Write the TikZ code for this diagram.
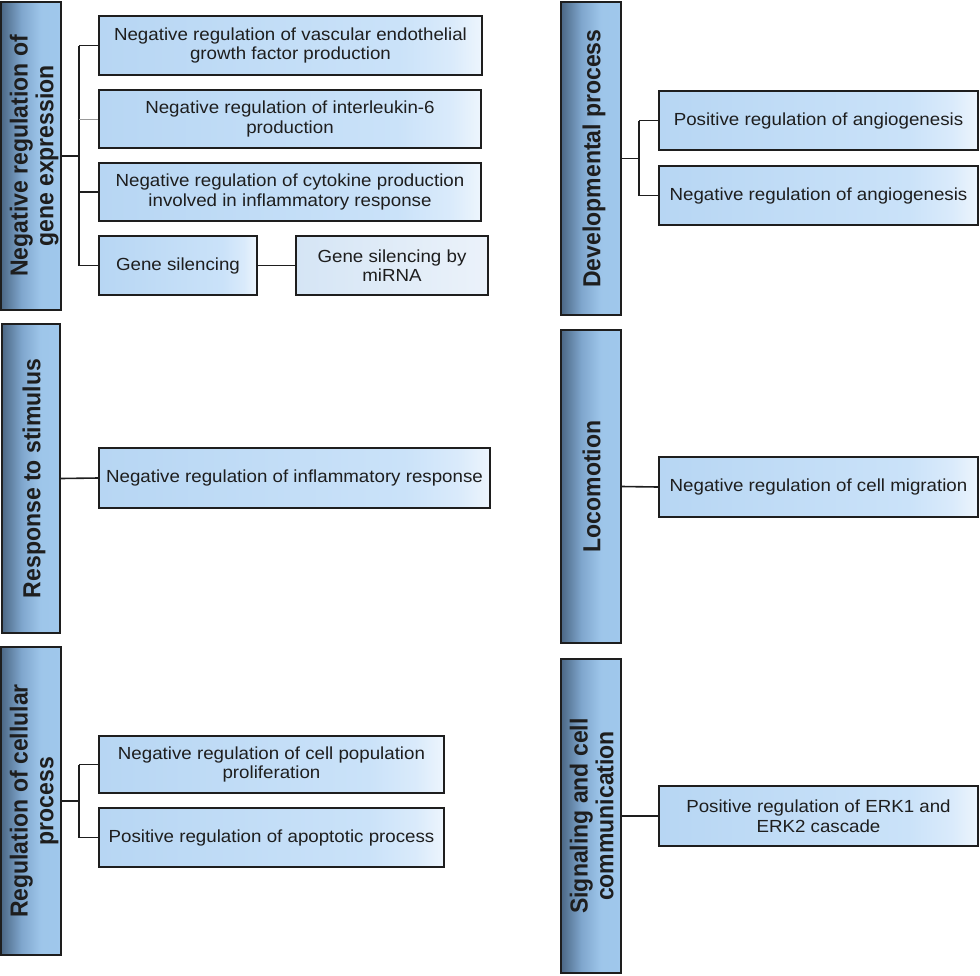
\documentclass[tikz,border=0pt]{standalone}
\usepackage{fontspec}
\setmainfont{Liberation Sans}
\newfontfamily\childfont{Liberation Sans}[FakeStretch=1.07]
\definecolor{catdark}{HTML}{4B6784}
\definecolor{catmid}{HTML}{7FA6CD}
\definecolor{catlight}{HTML}{A0C8EC}
\definecolor{chleft}{HTML}{B7D6F3}
\definecolor{chmid}{HTML}{CAE2F9}
\definecolor{chright}{HTML}{EDF5FD}
\definecolor{mileft}{HTML}{D5E5F5}
\definecolor{miright}{HTML}{EBF2FA}
\definecolor{ink}{HTML}{1E1E1E}
\pgfdeclarehorizontalshading{childshade}{100bp}{color(0bp)=(chleft); color(25bp)=(chleft); color(64bp)=(chmid); color(71bp)=(chmid!55!chright); color(75bp)=(chright); color(100bp)=(chright)}
\pgfdeclarehorizontalshading{catshade}{100bp}{color(0bp)=(catdark); color(25bp)=(catdark); color(42bp)=(catmid); color(58bp)=(catlight!92!catmid); color(75bp)=(catlight); color(100bp)=(catlight)}
\pgfdeclarehorizontalshading{mishade}{100bp}{color(0bp)=(mileft); color(25bp)=(mileft); color(75bp)=(miright); color(100bp)=(miright)}
\newcommand{\catlabel}[1]{\rotatebox{90}{\scalebox{1}[1.07]{\fontsize{23}{24}\selectfont\bfseries\begin{tabular}{@{}c@{}}\rule{0pt}{24.8pt}#1\end{tabular}}}}
\tikzset{
  x=1pt, y=-1pt,
  catbox/.style={draw=ink, line width=1.6pt, shading=catshade,
    minimum width=#1, inner sep=0pt, text=ink},
  childbox/.style={draw=ink, line width=1.6pt, shading=childshade,
    inner sep=0pt, align=center, text=ink, font=\childfont\fontsize{17.5}{19.5}\selectfont},
  mibox/.style={childbox, shading=mishade},
  conn/.style={draw=ink, line width=1.6pt},
  thinconn/.style={draw=gray!80, line width=1pt}
}
\begin{document}
\begin{tikzpicture}
\useasboundingbox (0,0) rectangle (980,975);
% category boxes
\node[catbox=58pt, minimum height=308pt] (A) at (31,156) {\catlabel{Negative regulation of\\gene expression}};
\node[catbox=58pt, minimum height=309pt] (B) at (31,478.5) {\catlabel{Response to stimulus}};
\node[catbox=58pt, minimum height=308pt] (C) at (31,801) {\catlabel{Regulation of cellular\\process}};
\node[catbox=60pt, minimum height=313pt] (D) at (591,158.5) {\catlabel{Developmental process}};
\node[catbox=60pt, minimum height=313pt] (E) at (591,486.5) {\catlabel{Locomotion}};
\node[catbox=60pt, minimum height=314pt] (F) at (591,816) {\catlabel{Signaling and cell\\communication}};
% children
\node[childbox, minimum width=383pt, minimum height=59pt] (a1) at (290.5,45.5) {Negative regulation of vascular endothelial\\growth factor production};
\node[childbox, minimum width=382pt, minimum height=58pt] (a2) at (290,119) {Negative regulation of interleukin-6\\production};
\node[childbox, minimum width=382pt, minimum height=58pt] (a3) at (290,192) {Negative regulation of cytokine production\\involved in inflammatory response};
\node[childbox, minimum width=158pt, minimum height=59pt] (a4) at (178,265.5) {Gene silencing};
\node[mibox, minimum width=192pt, minimum height=59pt] (a5) at (392,265.5) {Gene silencing by\\miRNA};
\node[childbox, minimum width=391pt, minimum height=60pt] (b1) at (294.5,478) {Negative regulation of inflammatory response};
\node[childbox, minimum width=345pt, minimum height=57pt] (c1) at (271.5,764.5) {Negative regulation of cell population\\proliferation};
\node[childbox, minimum width=345pt, minimum height=59pt] (c2) at (271.5,837.5) {Positive regulation of apoptotic process};
\node[childbox, minimum width=319pt, minimum height=59pt] (d1) at (818.5,120.5) {Positive regulation of angiogenesis};
\node[childbox, minimum width=319pt, minimum height=59pt] (d2) at (818.5,195.5) {Negative regulation of angiogenesis};
\node[childbox, minimum width=319pt, minimum height=60pt] (e1) at (818.5,487) {Negative regulation of cell migration};
\node[childbox, minimum width=319pt, minimum height=60pt] (f1) at (818.5,816) {Positive regulation of ERK1 and\\ERK2 cascade};
% trunks
\coordinate (ta) at (79,156);
\coordinate (tc) at (79,801);
\coordinate (td) at (639,158.5);
% connectors: gene expression
\draw[conn] (A.east) -- (ta);
\draw[conn] (ta |- a1.west) -- (ta |- a4.west);
\draw[conn] (ta |- a1.west) -- (a1.west);
\draw[thinconn] (ta |- a2.west) -- (a2.west);
\draw[conn] (ta |- a3.west) -- (a3.west);
\draw[conn] (ta |- a4.west) -- (a4.west);
\draw[conn] (a4.east) -- (a5.west);
% response
\draw[conn] (B.east) -- (b1.west);
% cellular process
\draw[conn] (C.east) -- (tc);
\draw[conn] (tc |- c1.west) -- (tc |- c2.west);
\draw[conn] (tc |- c1.west) -- (c1.west);
\draw[conn] (tc |- c2.west) -- (c2.west);
% developmental
\draw[conn] (D.east) -- (td);
\draw[conn] (td |- d1.west) -- (td |- d2.west);
\draw[conn] (td |- d1.west) -- (d1.west);
\draw[conn] (td |- d2.west) -- (d2.west);
% locomotion, signaling
\draw[conn] (E.east) -- (e1.west);
\draw[conn] (F.east) -- (f1.west);
\end{tikzpicture}
\end{document}
